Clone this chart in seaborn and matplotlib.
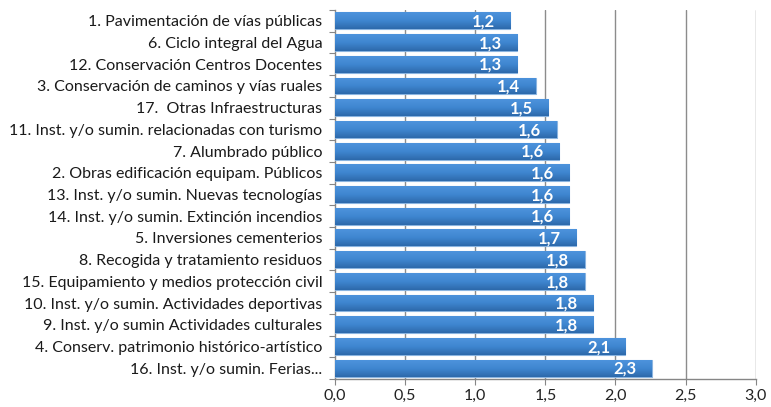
import numpy as np
import pandas as pd
import matplotlib
matplotlib.use("Agg")
import matplotlib.pyplot as plt
from matplotlib.colors import LinearSegmentedColormap
from matplotlib.ticker import FixedLocator
import seaborn as sns

categories = [
    "1. Pavimentación de vías públicas",
    "6. Ciclo integral del Agua",
    "12. Conservación Centros Docentes",
    "3. Conservación de caminos y vías ruales",
    "17.  Otras Infraestructuras",
    "11. Inst. y/o sumin. relacionadas con turismo",
    "7. Alumbrado público",
    "2. Obras edificación equipam. Públicos",
    "13. Inst. y/o sumin. Nuevas tecnologías",
    "14. Inst. y/o sumin. Extinción incendios",
    "5. Inversiones cementerios",
    "8. Recogida y tratamiento residuos",
    "15. Equipamiento y medios protección civil",
    "10. Inst. y/o sumin. Actividades deportivas",
    "9. Inst. y/o sumin Actividades culturales",
    "4. Conserv. patrimonio histórico-artístico",
    "16. Inst. y/o sumin. Ferias...",
]
values = [1.25, 1.30, 1.30, 1.43, 1.52, 1.58, 1.60, 1.67, 1.67, 1.67,
          1.72, 1.78, 1.78, 1.84, 1.84, 2.07, 2.26]
value_labels = ["1,2", "1,3", "1,3", "1,4", "1,5", "1,6", "1,6", "1,6", "1,6",
                "1,6", "1,7", "1,8", "1,8", "1,8", "1,8", "2,1", "2,3"]
x_ticks = [0.0, 0.5, 1.0, 1.5, 2.0, 2.5, 3.0]
x_tick_labels = ["0,0", "0,5", "1,0", "1,5", "2,0", "2,5", "3,0"]

sns.set_theme(style="white")
plt.rcParams["font.family"] = ["Lato", "DejaVu Sans"]

df = pd.DataFrame({"cat": categories, "val": values})

fig = plt.figure(figsize=(7.71, 4.07), dpi=100)
ax = fig.add_axes([0.4345, 0.0688, 0.5457, 0.9066])

sns.barplot(data=df, y="cat", x="val", orient="h", color="#3f86d0",
            width=0.78, edgecolor="#8ab4e0", linewidth=0.8, ax=ax,
            saturation=1, zorder=3)

grad = LinearSegmentedColormap.from_list("g", ["#4d93dc", "#3f86d0", "#2d69ab"])
gimg = np.linspace(0, 1, 64).reshape(-1, 1)
for patch, lab in zip(ax.patches, value_labels):
    x0, y0 = patch.get_x(), patch.get_y()
    w, h = patch.get_width(), patch.get_height()
    im = ax.imshow(gimg, cmap=grad, aspect="auto",
                   extent=(x0, x0 + w, y0 + h, y0), zorder=3.5,
                   interpolation="bilinear")
    im.set_clip_path(patch)
    ax.annotate(lab, xy=(x0 + w, y0 + h / 2), xytext=(-11, -0.5),
                textcoords="offset points", ha="right", va="center",
                color="white", fontsize=12, fontweight="bold", zorder=5)

ax.set_xlim(0, 3.0)
ax.set_ylim(len(categories) - 0.5, -0.5)
ax.set_xticks(x_ticks)
ax.set_xticklabels(x_tick_labels, fontsize=11.5, color="#222222")
ax.set_xlabel("")
ax.set_ylabel("")
ax.tick_params(axis="y", length=0, pad=9, labelsize=11.5, labelcolor="#1a1a1a")
ax.yaxis.set_minor_locator(FixedLocator(np.arange(-0.5, len(categories), 1.0)))
ax.tick_params(axis="y", which="minor", length=4, color="#868686", width=0.8, left=True)
ax.tick_params(axis="x", length=4, color="#868686", width=0.8, bottom=True, pad=3)

ax.grid(False)
for xv in x_ticks[1:]:
    ax.axvline(xv, color="#8c8c8c", linewidth=1.0, zorder=1)

for s in ["top", "right"]:
    ax.spines[s].set_visible(False)
for s in ["left", "bottom"]:
    ax.spines[s].set_color("#868686")
    ax.spines[s].set_linewidth(1.0)

fig.savefig("out.png", dpi=100)
